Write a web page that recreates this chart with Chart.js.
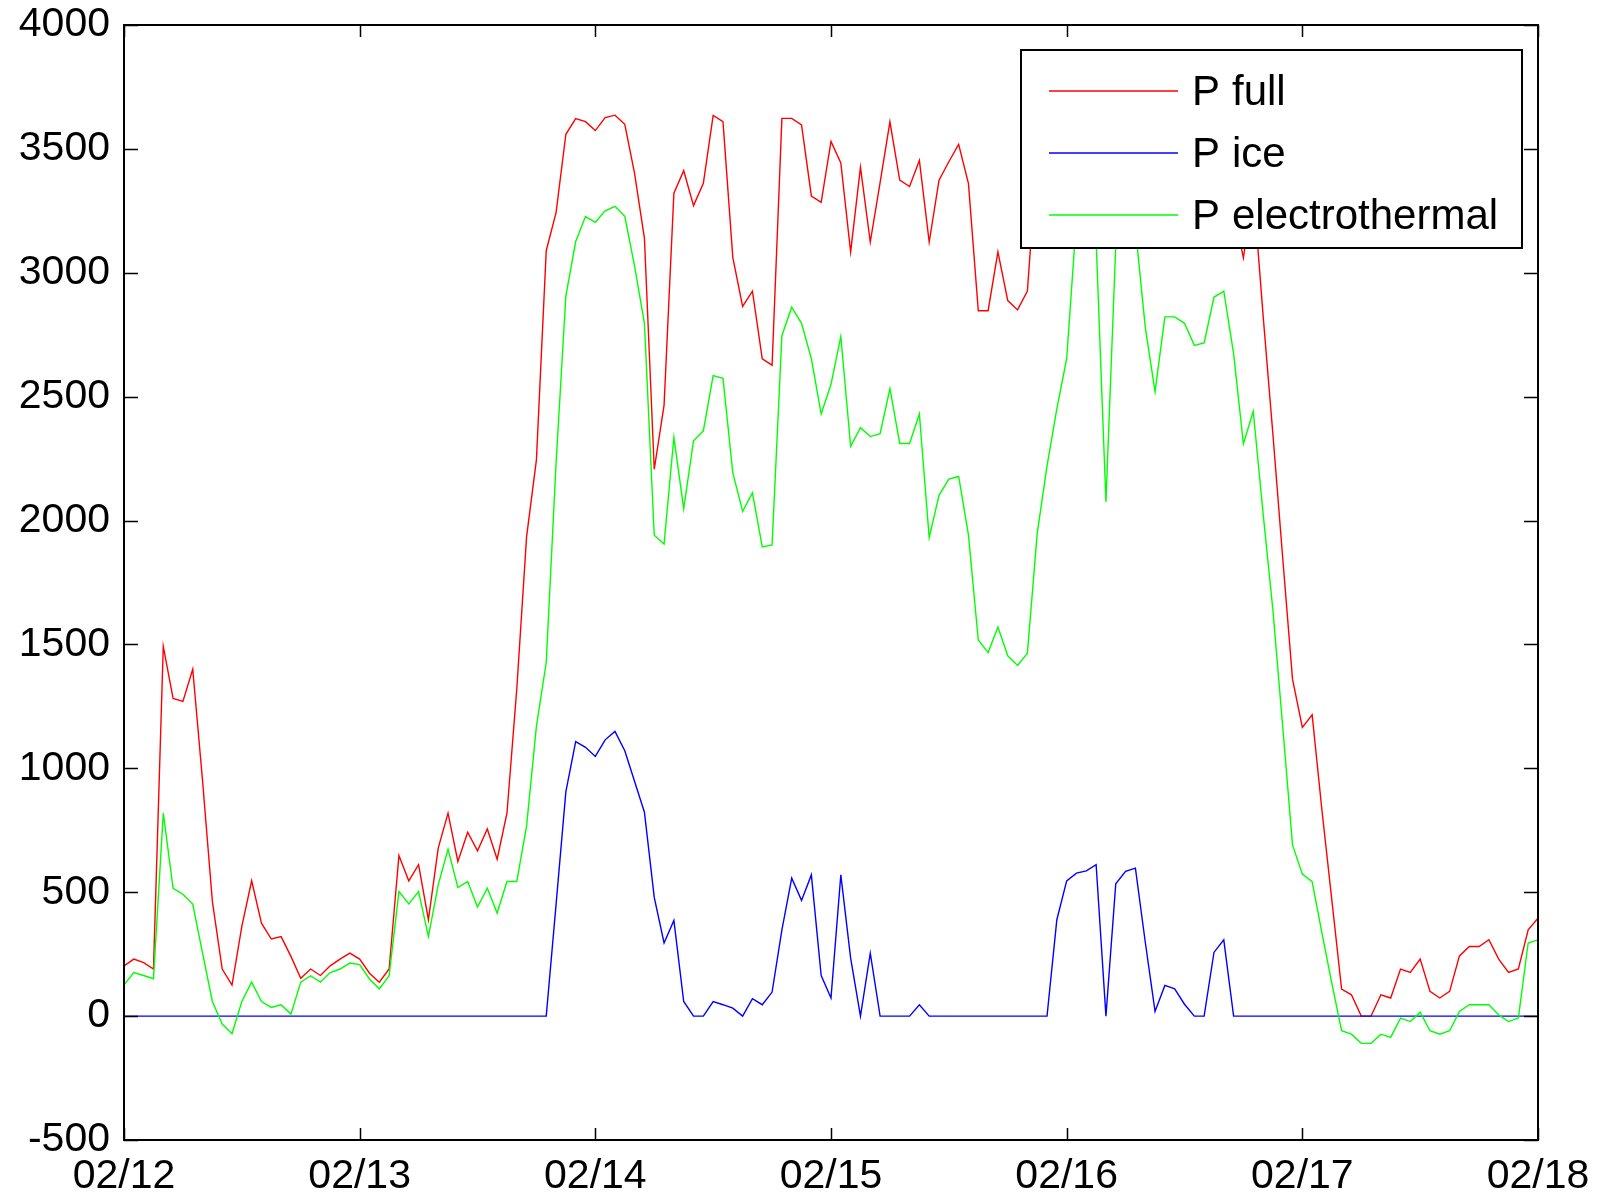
<!DOCTYPE html>
<html>
<head>
<meta charset="utf-8">
<script src="https://cdn.jsdelivr.net/npm/chart.js@4.4.1/dist/chart.umd.min.js"></script>
<style>
  body { margin: 0; background: #fff; }
  canvas { display: block; }
</style>
</head>
<body>
<canvas id="power_chart" width="1621" height="1196"></canvas>
<script>
// hourly samples, 02/12 00:00 -> 02/18 00:00
const dayLabels = ['02/12', '02/13', '02/14', '02/15', '02/16', '02/17', '02/18'];
const yTicks = [-500, 0, 500, 1000, 1500, 2000, 2500, 3000, 3500, 4000];

const pFull = [
  203, 230, 216, 190, 1492, 1282, 1270, 1400, 950, 463, 190, 125,
  362, 546, 375, 311, 321, 241, 153, 190, 164, 203, 230, 254,
  230, 173, 137, 190, 648, 546, 611, 389, 678, 819, 624, 742,
  667, 755, 633, 819, 1320, 1935, 2245, 3089, 3243, 3559, 3622, 3610,
  3574, 3626, 3636, 3599, 3400, 3139, 2207, 2466, 3321, 3412, 3271, 3361,
  3635, 3610, 3062, 2864, 2926, 2653, 2627, 3623, 3623, 3597, 3310, 3284,
  3530, 3443, 3084, 3426, 3124, 3364, 3609, 3374, 3348, 3453, 3124, 3374,
  3448, 3518, 3360, 2847, 2847, 3084, 2888, 2850, 2926, 3480, 3550, 3600,
  3620, 3650, 3640, 3600, 3200, 3620, 3640, 3600, 3450, 3300, 3500, 3500,
  3480, 3400, 3420, 3550, 3560, 3250, 3060, 3340, 2830, 2350, 1850, 1360,
  1165, 1216, 830, 470, 109, 86, 0, 0, 86, 73, 190, 176,
  230, 100, 73, 100, 243, 281, 281, 308, 230, 176, 190, 348,
  395
];

const pIce = [
  0, 0, 0, 0, 0, 0, 0, 0, 0, 0, 0, 0,
  0, 0, 0, 0, 0, 0, 0, 0, 0, 0, 0, 0,
  0, 0, 0, 0, 0, 0, 0, 0, 0, 0, 0, 0,
  0, 0, 0, 0, 0, 0, 0, 0, 450, 906, 1108, 1085,
  1048, 1115, 1149, 1071, 947, 823, 479, 295, 386, 59, 0, 0,
  59, 46, 32, 0, 70, 46, 97, 348, 557, 467, 570, 164,
  73, 570, 234, 0, 254, 0, 0, 0, 0, 46, 0, 0,
  0, 0, 0, 0, 0, 0, 0, 0, 0, 0, 0, 389,
  546, 577, 586, 611, 0, 534, 584, 597, 300, 19, 124, 110,
  48, 0, 0, 257, 308, 0, 0, 0, 0, 0, 0, 0,
  0, 0, 0, 0, 0, 0, 0, 0, 0, 0, 0, 0,
  0, 0, 0, 0, 0, 0, 0, 0, 0, 0, 0, 0,
  0
];

const pElectro = [
  126, 176, 164, 151, 819, 516, 492, 452, 254, 59, -32, -71,
  59, 137, 59, 35, 46, 8, 137, 163, 137, 176, 190, 214,
  208, 150, 110, 163, 503, 453, 503, 321, 530, 674, 519, 543,
  440, 516, 416, 543, 543, 768, 1169, 1427, 2230, 2907, 3126, 3227,
  3204, 3250, 3268, 3228, 3026, 2796, 1941, 1905, 2336, 2048, 2322, 2362,
  2585, 2574, 2193, 2037, 2112, 1894, 1902, 2746, 2861, 2796, 2653, 2430,
  2550, 2743, 2300, 2375, 2339, 2351, 2533, 2311, 2311, 2430, 1931, 2102,
  2167, 2178, 1941, 1518, 1467, 1570, 1454, 1415, 1465, 1948, 2221, 2451,
  2653, 3220, 3350, 3130, 2075, 3110, 3300, 3180, 2782, 2520, 2822, 2822,
  2796, 2707, 2717, 2901, 2926, 2674, 2310, 2441, 2030, 1640, 1170, 691,
  573, 543, 335, 133, -59, -73, -110, -110, -73, -86, -8, -22,
  16, -59, -73, -59, 19, 46, 46, 46, 5, -22, -8, 295,
  308
];

const hours = [];
for (let h = 0; h < pFull.length; h++) hours.push(h);

function toPoints(arr) {
  return arr.map((v, i) => ({ x: hours[i], y: v }));
}

const FONT = 'Liberation Sans, Arial, sans-serif';

// MATLAB-like box with inward ticks on all four sides
const boxPlugin = {
  id: 'box',
  afterDraw(chart) {
    const ctx = chart.ctx;
    const a = chart.chartArea;
    ctx.save();
    ctx.strokeStyle = '#000';
    ctx.lineWidth = 1.5;
    chart.scales.y.ticks.forEach(t => {
      const py = Math.round(chart.scales.y.getPixelForValue(t.value)) + 0.5;
      ctx.beginPath();
      ctx.moveTo(a.left, py); ctx.lineTo(a.left + 14, py);
      ctx.moveTo(a.right, py); ctx.lineTo(a.right - 14, py);
      ctx.stroke();
    });
    chart.scales.x.ticks.forEach(t => {
      const px = Math.round(chart.scales.x.getPixelForValue(t.value)) + 0.5;
      ctx.beginPath();
      ctx.moveTo(px, a.top); ctx.lineTo(px, a.top + 12);
      ctx.moveTo(px, a.bottom); ctx.lineTo(px, a.bottom - 12);
      ctx.stroke();
    });
    ctx.lineWidth = 2;
    ctx.strokeRect(a.left, a.top, a.right - a.left, a.bottom - a.top);
    ctx.restore();
  }
};

// legend box in the upper right corner of the axes
const legendPlugin = {
  id: 'boxLegend',
  afterDraw(chart) {
    const ctx = chart.ctx;
    const x0 = 1021, y0 = 50, w = 501, h = 198;
    ctx.save();
    ctx.fillStyle = '#fff';
    ctx.fillRect(x0, y0, w, h);
    ctx.strokeStyle = '#000';
    ctx.lineWidth = 2;
    ctx.strokeRect(x0, y0, w, h);
    ctx.font = '42px ' + FONT;
    ctx.textBaseline = 'middle';
    chart.data.datasets.forEach((ds, i) => {
      const y = y0 + 41 + i * 62;
      ctx.strokeStyle = ds.borderColor;
      ctx.lineWidth = 1.5;
      ctx.beginPath();
      ctx.moveTo(x0 + 28, y); ctx.lineTo(x0 + 157, y);
      ctx.stroke();
      ctx.fillStyle = '#000';
      const parts = ds.label.split(' ');
      ctx.fillText(parts[0], x0 + 171, y + 2);
      ctx.fillText(parts.slice(1).join(' '), x0 + 211, y + 2);
    });
    ctx.restore();
  }
};

const ctx = document.getElementById('power_chart').getContext('2d');

const chart = new Chart(ctx, {
  type: 'line',
  data: {
    datasets: [
      { label: 'P full', data: toPoints(pFull), borderColor: '#ff0000', order: 3 },
      { label: 'P ice', data: toPoints(pIce), borderColor: '#0000ff', order: 2 },
      { label: 'P electrothermal', data: toPoints(pElectro), borderColor: '#00ff00', order: 1 }
    ]
  },
  options: {
    responsive: false,
    animation: false,
    devicePixelRatio: 1,
    layout: { padding: { left: 0, top: 25, right: 83, bottom: 0 } },
    elements: {
      point: { radius: 0 },
      line: { borderWidth: 1.4, tension: 0 }
    },
    plugins: {
      legend: { display: false },
      tooltip: { enabled: false }
    },
    scales: {
      x: {
        type: 'linear',
        min: 0,
        max: 144,
        grid: { display: false, drawTicks: false },
        border: { display: false },
        afterBuildTicks: scale => {
          scale.ticks = dayLabels.map((d, i) => ({ value: i * 24 }));
        },
        afterFit: scale => { scale.height = 56; },
        ticks: {
          padding: 12,
          maxRotation: 0,
          autoSkip: false,
          color: '#000',
          font: { family: FONT, size: 41 },
          callback: v => dayLabels[v / 24]
        }
      },
      y: {
        min: -500,
        max: 4000,
        grid: { display: false, drawTicks: false },
        border: { display: false },
        afterBuildTicks: scale => {
          scale.ticks = yTicks.map(v => ({ value: v }));
        },
        afterFit: scale => {
          scale.width = 124;
          scale.paddingTop = 0;
          scale.paddingBottom = 0;
        },
        ticks: {
          padding: 14,
          color: '#000',
          font: { family: FONT, size: 41 },
          callback: v => String(v)
        }
      }
    }
  },
  plugins: [boxPlugin, legendPlugin]
});
</script>
</body>
</html>
